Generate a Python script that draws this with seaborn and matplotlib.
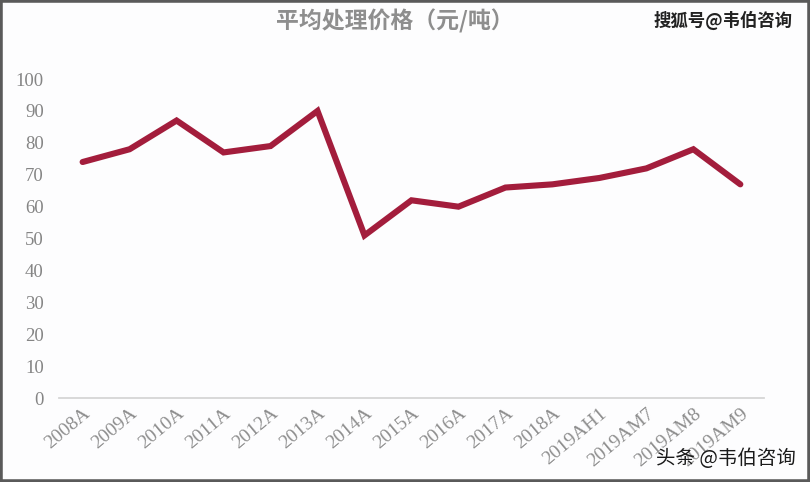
import matplotlib
matplotlib.use("Agg")
import matplotlib.pyplot as plt
import seaborn as sns
import pandas as pd
from matplotlib.patches import Rectangle

categories = ["2008A", "2009A", "2010A", "2011A", "2012A", "2013A", "2014A",
              "2015A", "2016A", "2017A", "2018A", "2019AH1", "2019AM7",
              "2019AM8", "2019AM9"]
prices = [74, 78, 87, 77, 79, 90, 51, 62, 60, 66, 67, 69, 72, 78, 67]
yticks = [0, 10, 20, 30, 40, 50, 60, 70, 80, 90, 100]

sns.set_theme(style="white")
plt.rcParams['font.family'] = ['Noto Sans CJK SC', 'DejaVu Sans']

df = pd.DataFrame({"cat": categories, "price": prices})

fig = plt.figure(figsize=(8.1, 4.82), dpi=100)
fig.patch.set_facecolor("#fdfdfe")
ax = fig.add_axes([0.073, 0.174, 0.870, 0.662])
ax.set_facecolor("#fdfdfe")

sns.lineplot(data=df, x="cat", y="price", ax=ax, color="#a31d3c",
             linewidth=4.4, sort=False, solid_joinstyle="miter")

ax.set_xlim(-0.5, len(categories) - 0.5)
ax.set_ylim(0, 100)
ax.set_yticks(yticks)
ax.set_yticklabels([str(v) for v in yticks], family="Liberation Serif",
                   color="#858585", fontsize=13.5)
ax.set_xticks(range(len(categories)))
ax.set_xticklabels(categories, family="Liberation Serif", color="#8e8e8e",
                   fontsize=14, rotation=40, ha="right", va="top",
                   rotation_mode="anchor")
ax.tick_params(axis="both", length=0)
ax.tick_params(axis="y", pad=11)
ax.tick_params(axis="x", pad=5)
ax.set_xlabel("")
ax.set_ylabel("")
for s in ["top", "right", "left"]:
    ax.spines[s].set_visible(False)
ax.spines["bottom"].set_color("#d6d6d6")
ax.spines["bottom"].set_linewidth(1.3)

fig.text(0.487, 0.955, "平均处理价格（元/吨）", ha="center", va="center",
         fontsize=16.5, color="#8e8e8e", fontweight="bold")
fig.text(0.978, 0.958, "搜狐号@韦伯咨询", ha="right", va="center",
         fontsize=12.5, color="#222222", fontweight="bold")
fig.text(0.982, 0.048, "头条 @韦伯咨询", ha="right", va="center",
         fontsize=14, color="#1a1a1a")

fig.patches.append(Rectangle((0, 0), 1, 1, transform=fig.transFigure,
                             fill=False, edgecolor="#5a5a5a", linewidth=4,
                             zorder=10))

fig.savefig("out.png", dpi=100)
